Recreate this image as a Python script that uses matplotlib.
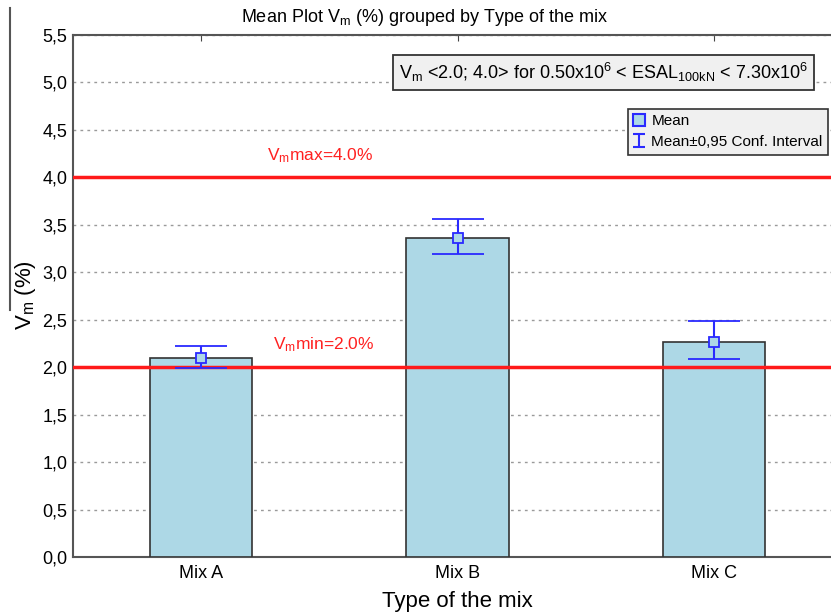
import matplotlib
matplotlib.use("Agg")
import matplotlib.pyplot as plt
from matplotlib import font_manager
from matplotlib.lines import Line2D
from matplotlib.legend_handler import HandlerErrorbar
import numpy as np

names = {f.name for f in font_manager.fontManager.ttflist}
fam = 'Liberation Sans Narrow' if 'Liberation Sans Narrow' in names else 'Liberation Sans'
plt.rcParams['font.family'] = [fam, 'DejaVu Sans']
plt.rcParams['mathtext.fontset'] = 'custom'
plt.rcParams['mathtext.rm'] = fam
plt.rcParams['mathtext.it'] = fam

categories = ['Mix A', 'Mix B', 'Mix C']
means = [2.10, 3.36, 2.27]
ci_low = [1.99, 3.19, 2.09]
ci_high = [2.22, 3.56, 2.49]
vm_min = 2.0
vm_max = 4.0
yticks = [0.0, 0.5, 1.0, 1.5, 2.0, 2.5, 3.0, 3.5, 4.0, 4.5, 5.0, 5.5]
ytick_labels = ['0,0', '0,5', '1,0', '1,5', '2,0', '2,5', '3,0', '3,5', '4,0', '4,5', '5,0', '5,5']

fig = plt.figure(figsize=(8.31, 6.15), dpi=100)
ax = fig.add_axes([73/831, 58/615, 769/831, 522/615])

x = np.arange(len(categories))
ax.bar(x, means, width=0.4, color='#add8e6', edgecolor='#333333', linewidth=1.2, zorder=3)
err = [np.array(means) - np.array(ci_low), np.array(ci_high) - np.array(means)]
ax.errorbar(x, means, yerr=err, fmt='s', color='#2a2aff', ecolor='#2a2aff',
            markerfacecolor='#add8e6', markeredgecolor='#2a2aff', markersize=7,
            markeredgewidth=1.3, elinewidth=1.5, capsize=19, capthick=1.5, zorder=5)

ax.axhline(vm_max, color='#ff1a1a', lw=2.5, zorder=4)
ax.axhline(vm_min, color='#ff1a1a', lw=2.5, zorder=4)
ax.text(0.464, vm_max + 0.13, r'V$_{\rm m}$max=4.0%', color='#ff2020', fontsize=12.5,
        ha='center', va='bottom', zorder=6)
ax.text(0.48, vm_min + 0.14, r'V$_{\rm m}$min=2.0%', color='#ff2020', fontsize=12.5,
        ha='center', va='bottom', zorder=6)

ax.set_xlim(-0.5, 2.5)
ax.set_ylim(0, 5.5)
ax.set_yticks(yticks)
ax.set_yticklabels(ytick_labels, fontsize=13)
ax.set_xticks(x)
ax.set_xticklabels(categories, fontsize=13)
ax.tick_params(axis='both', direction='in', length=4, color='#444444')
ax.tick_params(axis='x', top=True, pad=6)
ax.tick_params(axis='y', length=0, pad=4)
ax.yaxis.grid(True, linestyle=(0, (2, 3)), color='#9a9a9a', lw=1, zorder=0)
ax.set_axisbelow(True)
for s in ['left', 'bottom', 'top']:
    ax.spines[s].set_color('#555555')
    ax.spines[s].set_linewidth(1.5)
ax.spines['right'].set_visible(False)

ax.set_xlabel('Type of the mix', fontsize=16, labelpad=6)
fig.text(0.031, 0.52, r'V$_{\rm m}$ (%)', rotation=90, fontsize=16, ha='center', va='center')
fig.text(0.511, 0.972, r'Mean Plot V$_{\rm m}$ (%) grouped by Type of the mix', fontsize=13,
         ha='center', va='center')
fig.add_artist(Line2D([10/831, 10/831], [1 - 8/615, 1 - 310/615], color='#555555', lw=1.5))

fig.text(0.972, 0.882,
         r'V$_{\rm m}$ <2.0; 4.0> for 0.50x10$^{6}$ < ESAL$_{\rm 100kN}$ < 7.30x10$^{6}$',
         ha='right', va='center', fontsize=13,
         bbox=dict(boxstyle='square,pad=0.35', facecolor='#f0f0f0', edgecolor='#333333', lw=1.3),
         zorder=7)

h_mean = Line2D([], [], marker='s', linestyle='none', markerfacecolor='#add8e6',
                markeredgecolor='#2a2aff', markersize=8, markeredgewidth=1.5)
h_ci = ax.errorbar([-10], [0], yerr=[[0.1], [0.1]], fmt='none', ecolor='#2a2aff',
                   capsize=4, elinewidth=1.5, capthick=1.5)
leg = fig.legend([h_mean, h_ci], ['Mean', 'Mean\u00b10,95 Conf. Interval'],
                 loc='upper right', bbox_to_anchor=(828/831, 1 - 109/615),
                 fontsize=11, frameon=True, fancybox=False, handlelength=0.8,
                 handletextpad=0.4, borderpad=0.35, labelspacing=0.45, borderaxespad=0,
                 handler_map={type(h_ci): HandlerErrorbar(yerr_size=0.42)})
leg.get_frame().set_facecolor('#f0f0f0')
leg.get_frame().set_edgecolor('#333333')
leg.get_frame().set_linewidth(1.2)
leg.get_frame().set_alpha(1)

fig.savefig('out.png', dpi=100)
